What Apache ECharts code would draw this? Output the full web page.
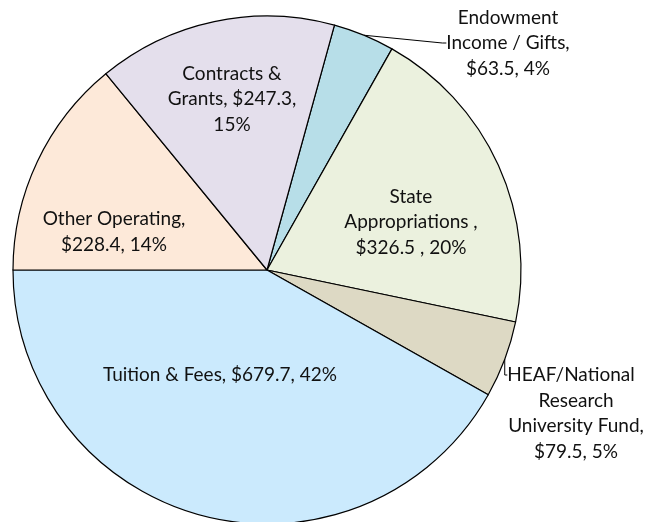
<!DOCTYPE html>
<html>
<head>
<meta charset="utf-8">
<script src="https://cdn.jsdelivr.net/npm/echarts@6/dist/echarts.min.js"></script>
<style>
  html, body { margin: 0; padding: 0; background: #fff; }
  #chart { width: 646px; height: 522px; }
</style>
</head>
<body>
<div id="chart"></div>
<script>
// 数据（单位：百万美元），按顺时针顺序
const names = ['Endowment Income / Gifts', 'State Appropriations', 'HEAF/National Research University Fund', 'Tuition & Fees', 'Other Operating', 'Contracts & Grants'];
const values = [63.5, 326.5, 79.5, 679.7, 228.4, 247.3];
const percents = ['4%', '20%', '5%', '42%', '14%', '15%'];
const colors = ['#b7dee8', '#ebf1de', '#ddd9c4', '#cbeafd', '#fde9d9', '#e4dfec'];

// 标签文字（按图中的换行）；HEAF 的标签分成首行和其余行，让引导线指向首行
const labelTexts = [
    'Endowment\nIncome / Gifts,\n$63.5, 4%',
    'State\nAppropriations ,\n$326.5 , 20%',
    'HEAF/National',
    'Tuition & Fees, $679.7, 42%',
    'Other Operating,\n$228.4, 14%',
    'Contracts &\nGrants, $247.3,\n15%'
];
const heafRest = 'Research\nUniversity Fund,\n$79.5, 5%';

// 标签中心位置
const labelPos = [
    [508, 43], [411, 222], [571, 375], [220, 375], [114, 232], [232, 99]
];
const heafRestPos = [576, 426];

const chart = echarts.init(document.getElementById('chart'));

const data = values.map((v, i) => ({
    name: names[i],
    value: v,
    itemStyle: { color: colors[i] },
    label: {
        formatter: labelTexts[i],
        position: (i === 0 || i === 2) ? 'outside' : 'inside'
    },
    labelLine: { show: i === 0 || i === 2 }
}));

// 第二层透明饼图，仅用于 HEAF 标签的其余行
const restData = values.map((v, i) => ({
    name: names[i],
    value: v,
    label: { show: i === 2, formatter: heafRest, position: 'inside' }
}));

const labelStyle = {
    color: '#111',
    fontFamily: 'Lato',
    fontSize: 19,
    lineHeight: 25.5,
    align: 'center',
    overflow: 'none'
};

chart.setOption({
    animation: false,
    series: [{
        type: 'pie',
        center: [267, 270],
        radius: [0, 254],
        startAngle: 74.6,
        clockwise: true,
        data: data,
        itemStyle: { borderColor: '#000', borderWidth: 1.2 },
        label: labelStyle,
        labelLine: {
            lineStyle: { color: '#000', width: 1 },
            length: 8,
            length2: 4
        },
        labelLayout: (params) => {
            const p = labelPos[params.dataIndex];
            return { x: p[0], y: p[1], align: 'center', verticalAlign: 'middle' };
        }
    }, {
        type: 'pie',
        center: [267, 270],
        radius: [0, 254],
        startAngle: 74.6,
        clockwise: true,
        silent: true,
        data: restData,
        itemStyle: { color: 'rgba(0,0,0,0)', borderWidth: 0 },
        label: labelStyle,
        labelLine: { show: false },
        labelLayout: () => ({ x: heafRestPos[0], y: heafRestPos[1], align: 'center', verticalAlign: 'middle' })
    }]
});
</script>
</body>
</html>
